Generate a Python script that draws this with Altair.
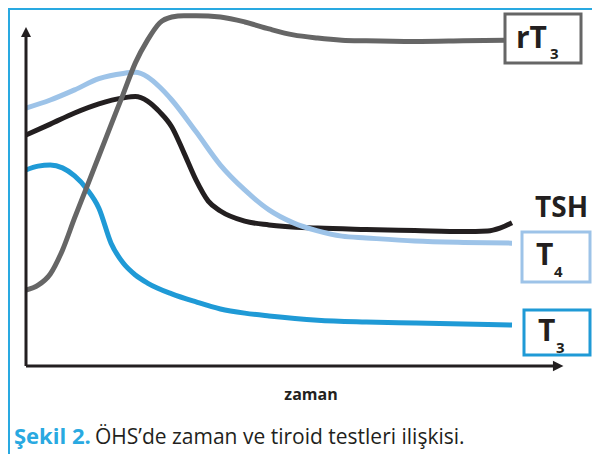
import altair as alt
import pandas as pd

# ---------------- data (time units 0..100, level units 0..100) ----------------
rt3_t = [0, 2.5, 5, 7.5, 10, 12.5, 15, 17.5, 20, 22.5, 25, 27.5, 30, 32.5, 35, 40, 45, 50, 55, 60, 65, 70, 80, 90, 98.6]
rt3_v = [21.7, 23.1, 26.3, 33.1, 42.3, 51.1, 60.0, 68.9, 77.7, 86.6, 93.1, 98.0, 99.7, 100.1, 100.1, 99.7, 98.3, 96.3, 94.6, 93.7, 93.1, 92.9, 92.7, 92.9, 93.1]

t4_t = [0, 5, 10, 15, 20, 22.5, 25, 27.5, 30, 35, 40, 45, 50, 55, 60, 65, 70, 80, 90, 100]
t4_v = [73.7, 76.0, 78.9, 82.1, 83.6, 83.9, 82.6, 79.7, 76.0, 66.9, 57.4, 50.3, 44.6, 40.9, 38.6, 37.1, 36.6, 35.7, 35.3, 35.1]

tsh_t = [0, 5, 10, 15, 20, 22.5, 25, 27.5, 30, 32.5, 35, 37.5, 40, 45, 50, 60, 70, 80, 90, 95, 97.5, 100]
tsh_v = [66.0, 69.1, 72.3, 74.9, 76.6, 77.0, 75.7, 72.6, 68.3, 60.9, 53.1, 47.1, 44.3, 41.4, 40.3, 39.4, 39.0, 38.7, 38.4, 38.6, 39.4, 40.9]

t3_t = [0, 2.5, 5, 7.5, 10, 12.5, 15, 17.5, 20, 22.5, 25, 30, 35, 40, 45, 50, 60, 70, 80, 90, 100]
t3_v = [56.0, 57.1, 57.4, 56.6, 54.3, 50.6, 45.1, 35.1, 29.4, 26.0, 23.7, 20.6, 18.3, 16.3, 15.1, 14.3, 13.1, 12.6, 12.3, 12.0, 11.7]

axis_x_end = 109.5   # time-axis arrow position
axis_y_end = 95.4    # level-axis arrow position

# ---------------- layout ----------------
W, H = 584, 446
X0, XK = 18.0, 4.86      # view x = X0 + XK * t
Y0, YK = 358.0, 3.5      # view y = Y0 - YK * v
x_dom = [-X0 / XK, (W - X0) / XK]
y_dom = [(Y0 - H) / YK, Y0 / YK]

xs = alt.Scale(domain=x_dom, nice=False, zero=False)
ys = alt.Scale(domain=y_dom, nice=False, zero=False)

C_T3 = "#1f9ad6"
C_T4 = "#9dc3e8"
C_TSH = "#231f20"
C_RT3 = "#666666"
C_FRAME = "#29a9e1"


def series(t, v, name):
    return pd.DataFrame({"t": t, "v": v, "s": name})


def line(df, color):
    return alt.Chart(df).mark_line(
        color=color, strokeWidth=5, interpolate="monotone", strokeCap="butt"
    ).encode(
        x=alt.X("t:Q", scale=xs, axis=None),
        y=alt.Y("v:Q", scale=ys, axis=None),
    )


l_tsh = line(series(tsh_t, tsh_v, "TSH"), C_TSH)
l_t4 = line(series(t4_t, t4_v, "T4"), C_T4)
l_t3 = line(series(t3_t, t3_v, "T3"), C_T3)
l_rt3 = line(series(rt3_t, rt3_v, "rT3"), C_RT3)

# axes (rules + arrowheads)
ax_df = pd.DataFrame({"t": [0, 0], "v": [0, 0], "t2": [0, axis_x_end], "v2": [axis_y_end, 0]})
axes = alt.Chart(ax_df).mark_rule(color=C_TSH, strokeWidth=3).encode(
    x=alt.X("t:Q", scale=xs, axis=None),
    y=alt.Y("v:Q", scale=ys, axis=None),
    x2="t2:Q",
    y2="v2:Q",
)
arr_up = alt.Chart(pd.DataFrame({"t": [0], "v": [axis_y_end]})).mark_point(
    shape="M0,-1L1,1L-1,1Z", filled=True, opacity=1, color=C_TSH, size=100
).encode(x=alt.X("t:Q", scale=xs, axis=None), y=alt.Y("v:Q", scale=ys, axis=None))
arr_right = alt.Chart(pd.DataFrame({"t": [axis_x_end], "v": [0]})).mark_point(
    shape="M-1,-1L1,0L-1,1Z", filled=True, opacity=1, color=C_TSH, size=110
).encode(x=alt.X("t:Q", scale=xs, axis=None), y=alt.Y("v:Q", scale=ys, axis=None))

one = pd.DataFrame({"a": [0]})


def box(x1, y1, x2, y2, color, sw=3):
    return alt.Chart(one).mark_rect(fill="white", stroke=color, strokeWidth=sw).encode(
        x=alt.value(x1), x2=alt.value(x2), y=alt.value(y1), y2=alt.value(y2)
    )


def txt(s, x, y, size, bold=True, color="#231f20", align="left", baseline="alphabetic"):
    return alt.Chart(one).mark_text(
        text=s, font="Open Sans", fontSize=size, fontWeight="bold" if bold else "normal",
        color=color, align=align, baseline=baseline
    ).encode(x=alt.value(x), y=alt.value(y))


# outer frame
frame_top = alt.Chart(one).mark_rule(color=C_FRAME, strokeWidth=2).encode(
    x=alt.value(0), x2=alt.value(W), y=alt.value(1)
)
frame_left = alt.Chart(one).mark_rule(color=C_FRAME, strokeWidth=2).encode(
    x=alt.value(1), y=alt.value(0), y2=alt.value(H)
)

labels = [
    box(497, 6, 573, 55, C_RT3),
    txt("rT", 508, 40, 30),
    txt("3", 542, 51, 15),
    txt("TSH", 527, 209, 28),
    box(514, 224, 582, 274, C_T4),
    txt("T", 528, 257, 30),
    txt("4", 546, 269, 15),
    box(516, 302, 582, 347, C_T3),
    txt("T", 530, 333, 30),
    txt("3", 548, 345, 15),
    txt("zaman", 303, 392, 16, align="center"),
    txt("Şekil 2.", 6, 436, 22, color=C_FRAME),
    txt("ÖHS’de zaman ve tiroid testleri ilişkisi.", 87, 436, 21, bold=False),
]

chart = alt.layer(
    frame_top, frame_left,
    l_tsh, l_t4, l_t3, l_rt3,
    axes, arr_up, arr_right,
    *labels,
).properties(
    width=W, height=H, padding=0,
    autosize=alt.AutoSizeParams(type="none"),
).configure_view(stroke=None)

chart.save("out.html", embed_options={"renderer": "svg", "actions": False})
